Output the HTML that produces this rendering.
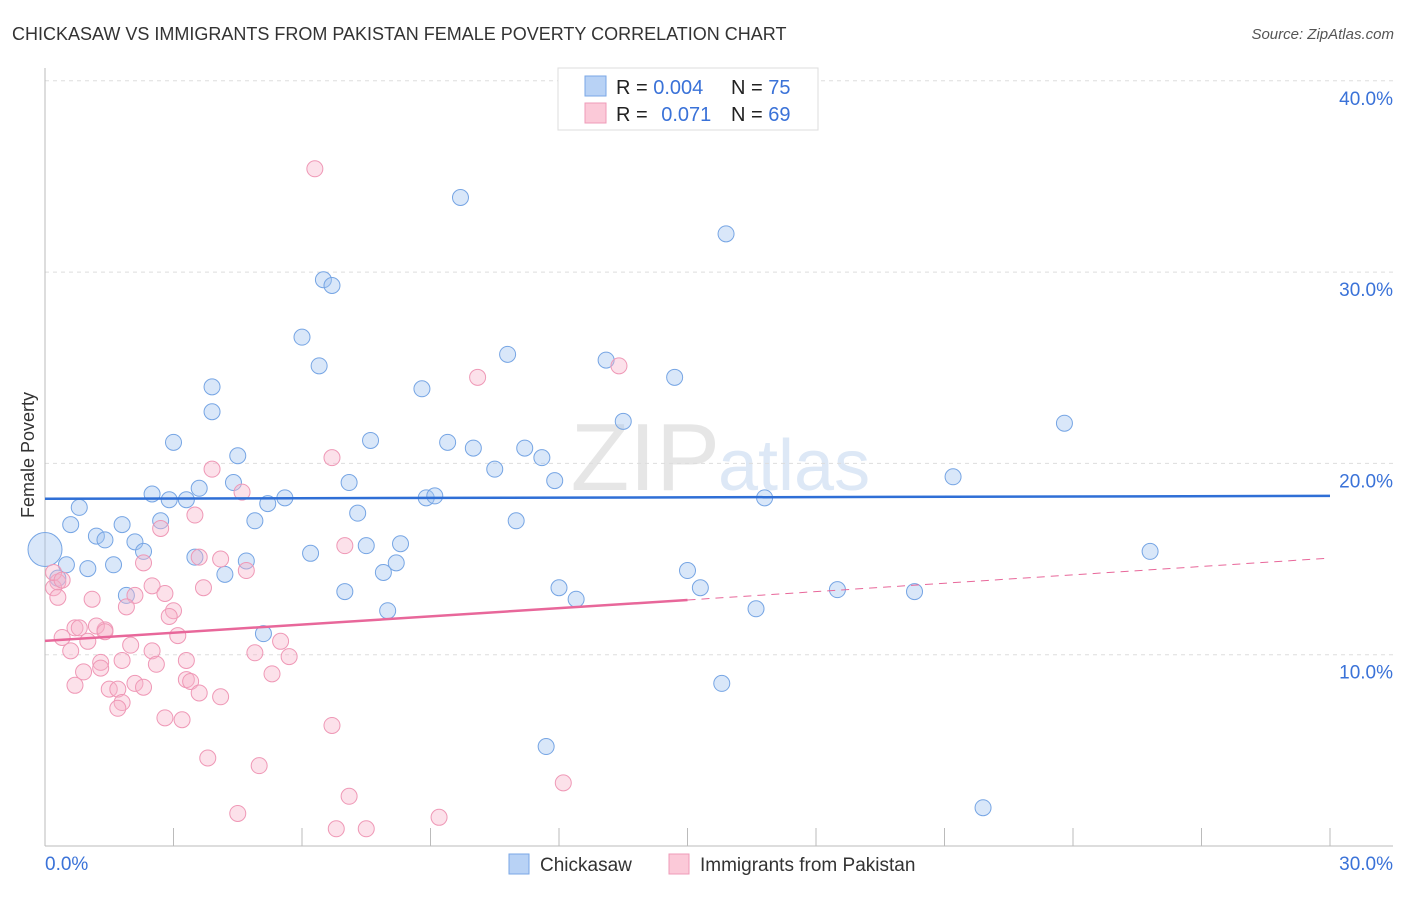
<!DOCTYPE html>
<html><head><meta charset="utf-8"><style>
body{margin:0;background:#fff;font-family:"Liberation Sans",sans-serif;}
svg text{font-family:"Liberation Sans",sans-serif;}
</style></head><body>
<svg id="chart" width="1406" height="892" xmlns="http://www.w3.org/2000/svg">
<text x="12" y="40" font-size="18" fill="#333">CHICKASAW VS IMMIGRANTS FROM PAKISTAN FEMALE POVERTY CORRELATION CHART</text>
<text x="1394" y="39" font-size="15" fill="#555" font-style="italic" text-anchor="end">Source: ZipAtlas.com</text>
<text x="720" y="490" font-size="96" fill="#e6e6e6" text-anchor="end" font-family="Liberation Serif">ZIP</text>
<text x="718" y="490" font-size="72" fill="#dde8f6">atlas</text>
<g id="grid"></g><g id="axes"></g><g id="pts"></g><g id="trend"></g>
<text transform="translate(34,455) rotate(-90)" font-size="18" fill="#333" text-anchor="middle">Female Poverty</text>
<g>
<rect x="558" y="68" width="260" height="62" fill="#fff" stroke="#ddd"/>
<rect x="585" y="76" width="21" height="20" fill="#b8d2f5" stroke="#7aa7e6"/>
<rect x="585" y="103" width="21" height="20" fill="#fbc9d8" stroke="#ef9bb8"/>
<text x="616" y="94" font-size="20" fill="#222">R = <tspan fill="#3a72d8">0.004</tspan></text>
<text x="731" y="94" font-size="20" fill="#222">N = <tspan fill="#3a72d8">75</tspan></text>
<text x="616" y="121" font-size="20" fill="#222">R = <tspan fill="#3a72d8" dx="8">0.071</tspan></text>
<text x="731" y="121" font-size="20" fill="#222">N = <tspan fill="#3a72d8">69</tspan></text>
</g>
<g>
<rect x="509" y="854" width="20" height="20" fill="#b8d2f5" stroke="#7aa7e6"/>
<text x="540" y="871" font-size="19" fill="#333">Chickasaw</text>
<rect x="669" y="854" width="20" height="20" fill="#fbc9d8" stroke="#ef9bb8"/>
<text x="700" y="871" font-size="19" fill="#333">Immigrants from Pakistan</text>
</g>
</svg>
<script>
const yTicks=[10,20,30,40];
const yTickLabels=["10.0%","20.0%","30.0%","40.0%"];
const xTickLabels=["0.0%","30.0%"];
const blueX=[9.7,15.9,6.5,6.7,6.0,10.8,6.4,13.1,14.7,3.9,8.8,3.9,13.5,23.8,3.0,7.6,9.4,10.0,11.2,4.5,11.6,10.5,21.2,4.4,7.1,11.9,3.6,2.5,2.9,3.3,5.2,5.6,8.9,9.1,16.8,0.8,7.3,2.7,4.9,11.0,0.6,1.8,1.2,1.4,2.1,2.3,7.5,8.3,3.5,6.2,25.8,4.7,8.2,0.5,1.0,1.6,4.2,7.9,15.0,0.3,12.0,15.3,7.0,18.5,20.3,1.9,12.4,8.0,16.6,5.1,15.8,11.7,21.9,0.0];
const blueY=[33.9,32.0,29.6,29.3,26.6,25.7,25.1,25.4,24.5,24.0,23.9,22.7,22.2,22.1,21.1,21.2,21.1,20.8,20.8,20.4,20.3,19.7,19.3,19.0,19.0,19.1,18.7,18.4,18.1,18.1,17.9,18.2,18.2,18.3,18.2,17.7,17.4,17.0,17.0,17.0,16.8,16.8,16.2,16.0,15.9,15.4,15.7,15.8,15.1,15.3,15.4,14.9,14.8,14.7,14.5,14.7,14.2,14.3,14.4,14.0,13.5,13.5,13.3,13.4,13.3,13.1,12.9,12.3,12.4,11.1,8.5,5.2,2.0,15.5];
const pinkX=[6.3,10.1,13.4,3.9,6.7,4.6,3.5,2.7,7.0,3.6,4.1,2.3,4.7,0.3,0.2,2.5,0.3,2.1,2.8,3.7,1.1,1.9,3.0,2.9,1.4,0.7,0.8,1.2,1.4,5.5,3.1,0.4,1.0,2.0,2.5,0.6,4.9,5.7,3.3,1.3,1.8,2.6,1.3,0.9,5.3,3.3,3.4,0.7,2.1,1.5,1.7,2.3,3.6,4.1,1.8,1.7,2.8,3.2,6.7,3.8,5.0,7.1,12.1,4.5,9.2,6.8,7.5,0.2,0.4];
const pinkY=[35.4,24.5,25.1,19.7,20.3,18.5,17.3,16.6,15.7,15.1,15.0,14.8,14.4,13.8,13.5,13.6,13.0,13.1,13.2,13.5,12.9,12.5,12.3,12.0,11.3,11.4,11.4,11.5,11.2,10.7,11.0,10.9,10.7,10.5,10.2,10.2,10.1,9.9,9.7,9.6,9.7,9.5,9.3,9.1,9.0,8.7,8.6,8.4,8.5,8.2,8.2,8.3,8.0,7.8,7.5,7.2,6.7,6.6,6.3,4.6,4.2,2.6,3.3,1.7,1.5,0.9,0.9,14.3,13.9];
const blueTrend=[18.15,18.3];
const pinkTrend=[10.72,12.86,15.05];
const NS="http://www.w3.org/2000/svg";
const X0=45,X1=1330,Y0=846,PPY=19.13;
function sx(v){return X0+(v/30)*(X1-X0);}
function sy(v){return Y0-v*PPY;}
function mk(parent,tag,attrs){const e=document.createElementNS(NS,tag);for(const k in attrs)e.setAttribute(k,attrs[k]);document.getElementById(parent).appendChild(e);return e;}
yTicks.forEach((t,i)=>{
 const l=mk('grid','line',{x1:45,x2:1393,y1:sy(t),y2:sy(t),stroke:'#ddd','stroke-dasharray':'4,4'});
 
 
 const tx=mk('grid','text',{x:1393,y:sy(t)+24,'font-size':19,fill:'#3a72d8','text-anchor':'end'});
 tx.textContent=yTickLabels[i];
 
 
});
const al=mk('axes','line',{x1:45,x2:45,y1:68,y2:846,stroke:'#bbb'});


const bl=mk('axes','line',{x1:45,x2:1393,y1:846,y2:846,stroke:'#bbb'});


for(let i=0;i<=10;i++){
 const t=mk('axes','line',{x1:sx(i*3),x2:sx(i*3),y1:828,y2:846,stroke:'#bbb'});
 
 
}
const xl0=mk('axes','text',{x:45,y:870,'font-size':19,fill:'#3a72d8'});xl0.textContent=xTickLabels[0];


const xl1=mk('axes','text',{x:1393,y:870,'font-size':19,fill:'#3a72d8','text-anchor':'end'});xl1.textContent=xTickLabels[1];


blueX.forEach((x,i)=>{
 const big=(i===blueX.length-1);
 const c=mk('pts','circle',{cx:sx(x),cy:sy(blueY[i]),r:big?17:8,fill:'rgba(160,195,240,0.4)',stroke:'#76a5e4','stroke-width':1});
 
 
});
pinkX.forEach((x,i)=>{
 const c=mk('pts','circle',{cx:sx(x),cy:sy(pinkY[i]),r:8,fill:'rgba(248,180,202,0.4)',stroke:'#ef98b6','stroke-width':1});
 
 
});
const bt=mk('trend','line',{x1:sx(0),x2:sx(30),y1:sy(blueTrend[0]),y2:sy(blueTrend[1]),stroke:'#2f6fd6','stroke-width':2.5});


const pt=mk('trend','line',{x1:sx(0),x2:sx(15),y1:sy(pinkTrend[0]),y2:sy(pinkTrend[1]),stroke:'#e8679a','stroke-width':2.5});


const pd=mk('trend','line',{x1:sx(15),x2:sx(30),y1:sy(pinkTrend[1]),y2:sy(pinkTrend[2]),stroke:'#e8679a','stroke-width':1,'stroke-dasharray':'8,6'});


</script>
</body></html>
